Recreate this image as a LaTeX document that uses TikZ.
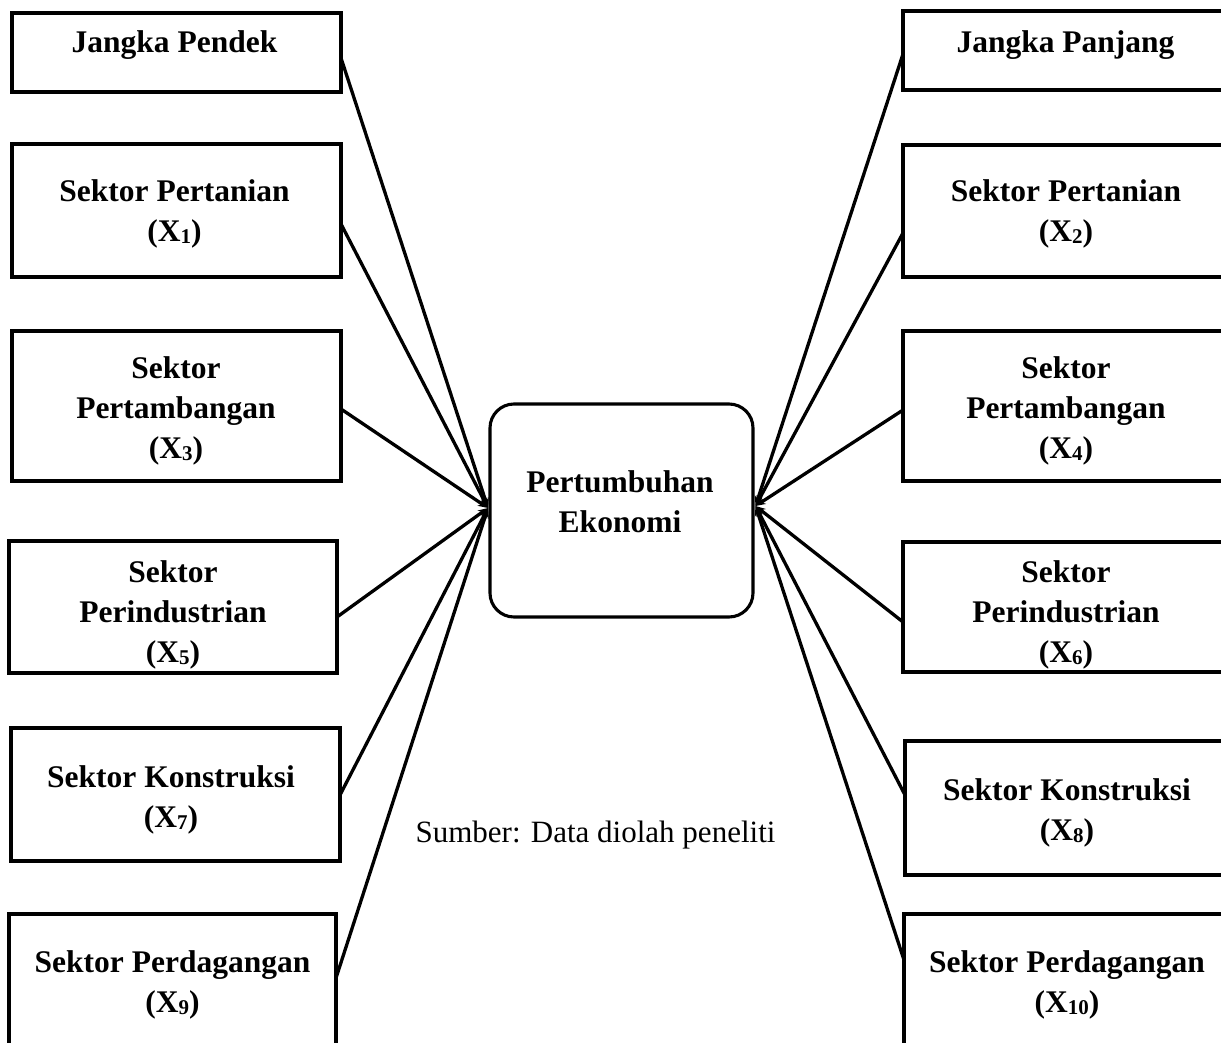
\documentclass[tikz,border=0pt]{standalone}
\usepackage{fontspec}
\setmainfont{Liberation Serif}
\usetikzlibrary{arrows.meta}
\newcommand{\sbx}[1]{\raisebox{-2pt}{\fontsize{21}{21}\selectfont #1}}
\newcommand{\mlines}[1]{\begin{tabular}[t]{@{}c@{}}#1\end{tabular}}
\begin{document}
\begin{tikzpicture}[x=1pt,y=-1pt,
  box/.style={draw,line width=3.1pt,inner sep=0pt,outer sep=0pt},
  txt/.style={font=\fontsize{31.5}{40}\selectfont\bfseries,inner sep=0pt,anchor=base},
  note/.style={font=\fontsize{31}{40}\selectfont,inner sep=0pt,anchor=base},
  conn/.style={line width=3.3pt,-{Stealth[length=10pt,width=8pt]}}]
\useasboundingbox (0,0) rectangle (1221,1043);
\clip (0,0) rectangle (1221,1043);
% left boxes
\node[box,minimum width=329pt,minimum height=79pt]  (L1) at (176.5,52.5) {};
\node[box,minimum width=329pt,minimum height=133pt] (L2) at (176.5,210.5) {};
\node[box,minimum width=329pt,minimum height=150pt] (L3) at (176.5,406) {};
\node[box,minimum width=328pt,minimum height=132pt] (L4) at (173,607) {};
\node[box,minimum width=329pt,minimum height=133pt] (L5) at (175.5,794.5) {};
\node[box,minimum width=327pt,minimum height=146pt] (L6) at (172.5,987) {};
% right boxes
\node[box,minimum width=324pt,minimum height=79pt]  (R1) at (1065,50.5) {};
\node[box,minimum width=324pt,minimum height=132pt] (R2) at (1065,211) {};
\node[box,minimum width=324pt,minimum height=150pt] (R3) at (1065,406) {};
\node[box,minimum width=324pt,minimum height=130pt] (R4) at (1065,607) {};
\node[box,minimum width=322pt,minimum height=134pt] (R5) at (1066,808) {};
\node[box,minimum width=323pt,minimum height=146pt] (R6) at (1065.5,987) {};
% centre
\node[box,rounded corners=24pt,minimum width=263pt,minimum height=213pt] (E) at (621.5,510.5) {};
% texts
\node[txt] (tL1) at (174.5,53) {Jangka Pendek};
\node[txt] (tL2) at (174.5,202) {\mlines{Sektor Pertanian\\(X\sbx{1})}};
\node[txt] (tL3) at (176,378) {\mlines{Sektor\\Pertambangan\\(X\sbx{3})}};
\node[txt] (tL4) at (173,582) {\mlines{Sektor\\Perindustrian\\(X\sbx{5})}};
\node[txt] (tL5) at (171,787) {\mlines{Sektor Konstruksi\\(X\sbx{7})}};
\node[txt] (tL6) at (172.5,972) {\mlines{Sektor Perdagangan\\(X\sbx{9})}};
\node[txt] (tR1) at (1065.5,53) {Jangka Panjang};
\node[txt] (tR2) at (1066,202) {\mlines{Sektor Pertanian\\(X\sbx{2})}};
\node[txt] (tR3) at (1066,378) {\mlines{Sektor\\Pertambangan\\(X\sbx{4})}};
\node[txt] (tR4) at (1066,582) {\mlines{Sektor\\Perindustrian\\(X\sbx{6})}};
\node[txt] (tR5) at (1067,800) {\mlines{Sektor Konstruksi\\(X\sbx{8})}};
\node[txt] (tR6) at (1067,972) {\mlines{Sektor Perdagangan\\(X\sbx{10})}};
\node[txt] (tE) at (620,492) {\mlines{Pertumbuhan\\Ekonomi}};
\node[note] (src) at (595.5,842) {Sumber: Data diolah peneliti};
% end points at the centre box
\coordinate (inL) at ([xshift=-2pt,yshift=2.5pt]E.west);
\coordinate (inR) at ([xshift=2.5pt,yshift=4.5pt]E.east);
% connectors
\draw[conn] (L1.east |- 0,58)  -- (inL);
\draw[conn] (L2.east |- 0,224) -- (inL);
\draw[conn] (L3.east |- 0,409) -- (inL);
\draw[conn] (L4.east |- 0,617) -- (inL);
\draw[conn] (L5.east |- 0,795) -- (inL);
\draw[conn] (L6.east |- 0,978) -- (inL);
\draw[conn] (R1.west |- 0,54)  -- (inR);
\draw[conn] (R2.west |- 0,233) -- (inR);
\draw[conn] (R3.west |- 0,410) -- (inR);
\draw[conn] (R4.west |- 0,622) -- (inR);
\draw[conn] (R5.west |- 0,795) -- (inR);
\draw[conn] (R6.west |- 0,960) -- (inR);
\end{tikzpicture}
\end{document}
